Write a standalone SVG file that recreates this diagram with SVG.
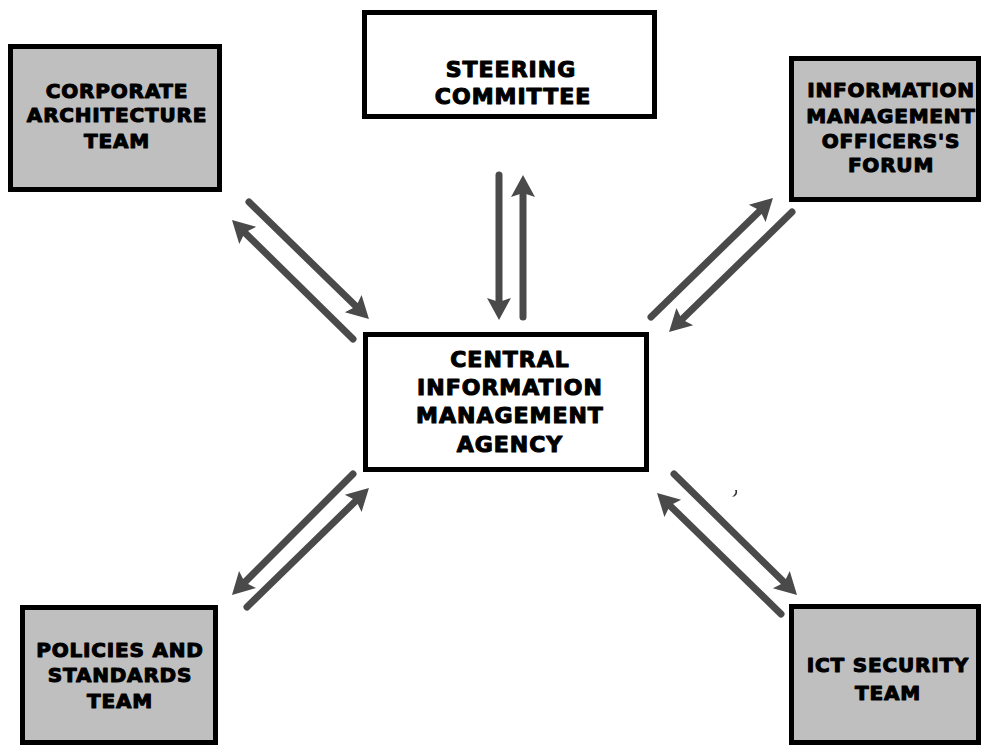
<svg xmlns="http://www.w3.org/2000/svg" width="984" height="750" viewBox="0 0 984 750">
<style>
.box{fill:#ffffff;stroke:#000;stroke-width:5}
.gbox{fill:#bfbfbf;stroke:#000;stroke-width:5}
.t{font-family:"DejaVu Sans","Liberation Sans",sans-serif;font-weight:bold;fill:#000;stroke:#000;stroke-width:1.1;stroke-linejoin:round;text-anchor:middle}
.big{font-size:22px;letter-spacing:1px}
.sm{font-size:20px;letter-spacing:0.8px}
.arr{stroke:#4a4a4a;stroke-width:7;stroke-linecap:round;fill:none;marker-end:url(#ah)}
</style>
<defs>
<marker id="ah" markerUnits="userSpaceOnUse" markerWidth="24" markerHeight="26" refX="6" refY="12" orient="auto" viewBox="0 0 24 24" overflow="visible">
<path d="M0,0 L22,12 L0,24 L4,12 z" fill="#4a4a4a"/>
</marker>
</defs>
<rect width="984" height="750" fill="#fff"/>
<g id="connectors">
<line class="arr" x1="499" y1="175" x2="499" y2="304"/>
<line class="arr" x1="523" y1="317" x2="523" y2="191"/>
<line class="arr" x1="249" y1="202" x2="357.5" y2="307.8"/>
<line class="arr" x1="353" y1="339" x2="243.4" y2="231.2"/>
<line class="arr" x1="651" y1="317" x2="761.5" y2="209.2"/>
<line class="arr" x1="792" y1="212" x2="680.5" y2="320.8"/>
<line class="arr" x1="353" y1="474" x2="243.3" y2="583.7"/>
<line class="arr" x1="247" y1="607" x2="357.5" y2="499.2"/>
<line class="arr" x1="674" y1="474" x2="785.6" y2="583.8"/>
<line class="arr" x1="781" y1="614" x2="668.5" y2="504.2"/>
</g>
<path d="M735,490 q2,3 -3,7 q6,-1 5,-7 z" fill="#333"/>
<g id="steering">
<rect class="box" x="364.5" y="12.5" width="290" height="104"/>
<text class="t big" x="511" y="77">STEERING</text>
<text class="t big" x="513" y="104">COMMITTEE</text>
</g>
<g id="central">
<rect class="box" x="365.5" y="334.5" width="281" height="135"/>
<text class="t big" x="510" y="367">CENTRAL</text>
<text class="t big" x="510" y="395">INFORMATION</text>
<text class="t big" x="510" y="423">MANAGEMENT</text>
<text class="t big" x="510" y="452">AGENCY</text>
</g>
<g id="corporate">
<rect class="gbox" x="10.5" y="46.5" width="209" height="143"/>
<text class="t sm" x="117" y="98">CORPORATE</text>
<text class="t sm" x="117" y="122">ARCHITECTURE</text>
<text class="t sm" x="117" y="148">TEAM</text>
</g>
<g id="imo">
<rect class="gbox" x="791.5" y="58.5" width="187" height="141"/>
<text class="t sm" x="891" y="97">INFORMATION</text>
<text class="t sm" x="891" y="123">MANAGEMENT</text>
<text class="t sm" x="891" y="148">OFFICERS'S</text>
<text class="t sm" x="891" y="172">FORUM</text>
</g>
<g id="policies">
<rect class="gbox" x="22.5" y="607.5" width="193" height="135"/>
<text class="t sm" x="120" y="657">POLICIES AND</text>
<text class="t sm" x="120" y="682">STANDARDS</text>
<text class="t sm" x="120" y="708">TEAM</text>
</g>
<g id="ict">
<rect class="gbox" x="791.5" y="606.5" width="187" height="136"/>
<text class="t sm" x="888" y="672">ICT SECURITY</text>
<text class="t sm" x="888" y="700">TEAM</text>
</g>
</svg>
